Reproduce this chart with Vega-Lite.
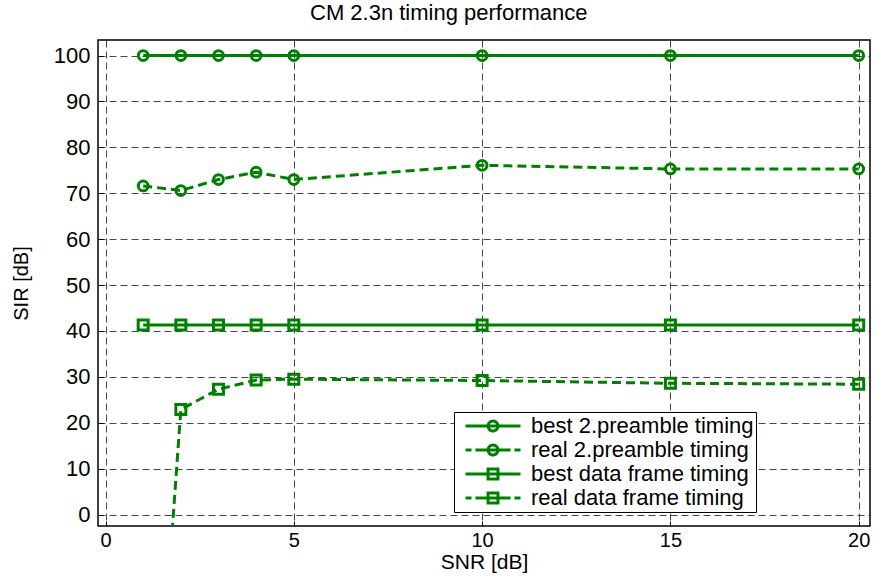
{
  "$schema": "https://vega.github.io/schema/vega-lite/v6.json",
  "autosize": {"type": "none"},
  "width": 772,
  "height": 486,
  "padding": {"left": 98, "top": 40, "right": 6, "bottom": 56},
  "background": "white",
  "title": {
    "text": "CM 2.3n timing performance",
    "anchor": "start",
    "frame": "group",
    "dx": 212,
    "dy": 19,
    "baseline": "alphabetic",
    "offset": 17,
    "font": "Liberation Sans",
    "fontSize": 22,
    "fontWeight": "normal",
    "color": "#000"
  },
  "data": {
    "values": [
      {"snr": 1, "sir": 100, "series": "best 2.preamble timing"},
      {"snr": 2, "sir": 100, "series": "best 2.preamble timing"},
      {"snr": 3, "sir": 100, "series": "best 2.preamble timing"},
      {"snr": 4, "sir": 100, "series": "best 2.preamble timing"},
      {"snr": 5, "sir": 100, "series": "best 2.preamble timing"},
      {"snr": 10, "sir": 100, "series": "best 2.preamble timing"},
      {"snr": 15, "sir": 100, "series": "best 2.preamble timing"},
      {"snr": 20, "sir": 100, "series": "best 2.preamble timing"},
      {"snr": 1, "sir": 71.6, "series": "real 2.preamble timing"},
      {"snr": 2, "sir": 70.6, "series": "real 2.preamble timing"},
      {"snr": 3, "sir": 73.0, "series": "real 2.preamble timing"},
      {"snr": 4, "sir": 74.6, "series": "real 2.preamble timing"},
      {"snr": 5, "sir": 73.0, "series": "real 2.preamble timing"},
      {"snr": 10, "sir": 76.1, "series": "real 2.preamble timing"},
      {"snr": 15, "sir": 75.3, "series": "real 2.preamble timing"},
      {"snr": 20, "sir": 75.3, "series": "real 2.preamble timing"},
      {"snr": 1, "sir": 41.3, "series": "best data frame timing"},
      {"snr": 2, "sir": 41.3, "series": "best data frame timing"},
      {"snr": 3, "sir": 41.3, "series": "best data frame timing"},
      {"snr": 4, "sir": 41.3, "series": "best data frame timing"},
      {"snr": 5, "sir": 41.3, "series": "best data frame timing"},
      {"snr": 10, "sir": 41.3, "series": "best data frame timing"},
      {"snr": 15, "sir": 41.3, "series": "best data frame timing"},
      {"snr": 20, "sir": 41.3, "series": "best data frame timing"},
      {"snr": 1, "sir": -92, "series": "real data frame timing"},
      {"snr": 2, "sir": 22.9, "series": "real data frame timing"},
      {"snr": 3, "sir": 27.3, "series": "real data frame timing"},
      {"snr": 4, "sir": 29.3, "series": "real data frame timing"},
      {"snr": 5, "sir": 29.5, "series": "real data frame timing"},
      {"snr": 10, "sir": 29.2, "series": "real data frame timing"},
      {"snr": 15, "sir": 28.6, "series": "real data frame timing"},
      {"snr": 20, "sir": 28.4, "series": "real data frame timing"}
    ]
  },
  "encoding": {
    "x": {
      "field": "snr",
      "type": "quantitative",
      "scale": {"domain": [-0.2, 20.3], "nice": false, "zero": false},
      "axis": {"values": [0, 5, 10, 15, 20], "title": "SNR [dB]", "titleFontSize": 21, "titlePadding": 1, "labelPadding": 9, "labelFontSize": 20}
    },
    "y": {
      "field": "sir",
      "type": "quantitative",
      "scale": {"domain": [-2.5, 103.4], "nice": false, "zero": false},
      "axis": {"values": [0, 10, 20, 30, 40, 50, 60, 70, 80, 90, 100], "title": "SIR [dB]", "titleFontSize": 20, "titlePadding": 22, "labelPadding": 13}
    },
    "color": {
      "field": "series",
      "type": "nominal",
      "sort": ["best 2.preamble timing", "real 2.preamble timing", "best data frame timing", "real data frame timing"],
      "scale": {
        "domain": ["best 2.preamble timing", "real 2.preamble timing", "best data frame timing", "real data frame timing"],
        "range": ["#008000", "#008000", "#008000", "#008000"]
      },
      "legend": {
        "title": null,
        "orient": "none",
        "legendX": 356,
        "legendY": 372,
        "padding": 2,
        "strokeColor": "#000",
        "fillColor": "#fff",
        "labelFont": "Liberation Sans",
        "labelFontSize": 22,
        "labelColor": "#000",
        "labelOffset": 9,
        "labelLimit": 400,
        "symbolSize": 3025,
        "symbolOffset": 8,
        "symbolStrokeWidth": 3,
        "symbolOpacity": 1,
        "clipHeight": 24,
        "rowPadding": 0,
        "encode": {
          "symbols": {
            "update": {
              "shape": {"signal": "datum.value === 'best 2.preamble timing' ? 'M-1,0H1M0.18,0A0.18,0.18,0,1,1,-0.18,0A0.18,0.18,0,1,1,0.18,0' : datum.value === 'real 2.preamble timing' ? 'M-1,0H-0.78M-0.64,0H-0.36M-0.36,0H0.36M0.36,0H0.64M0.78,0H1M0.18,0A0.18,0.18,0,1,1,-0.18,0A0.18,0.18,0,1,1,0.18,0' : datum.value === 'best data frame timing' ? 'M-1,0H1M-0.18,-0.18H0.18V0.18H-0.18Z' : 'M-1,0H-0.78M-0.64,0H-0.36M-0.36,0H0.36M0.36,0H0.64M0.78,0H1M-0.18,-0.18H0.18V0.18H-0.18Z'"},
              "stroke": {"value": "#008000"},
              "fill": {"value": "transparent"},
              "strokeWidth": {"value": 3},
              "strokeDash": {"value": [1, 0]},
              "opacity": {"value": 1}
            }
          }
        }
      }
    }
  },
  "layer": [
    {
      "transform": [{"filter": {"field": "series", "oneOf": ["best 2.preamble timing", "best data frame timing"]}}],
      "mark": {"type": "line", "strokeWidth": 3, "clip": true}
    },
    {
      "transform": [{"filter": {"field": "series", "oneOf": ["real 2.preamble timing", "real data frame timing"]}}],
      "mark": {"type": "line", "strokeWidth": 3, "strokeDash": [9, 5], "clip": true}
    },
    {
      "transform": [{"filter": {"field": "series", "oneOf": ["best 2.preamble timing", "real 2.preamble timing"]}}],
      "mark": {"type": "point", "shape": "circle", "filled": false, "strokeWidth": 3, "size": 95, "clip": true, "opacity": 1}
    },
    {
      "transform": [{"filter": {"field": "series", "oneOf": ["best data frame timing", "real data frame timing"]}}],
      "mark": {"type": "point", "shape": "square", "filled": false, "strokeWidth": 3, "size": 100, "clip": true, "opacity": 1}
    }
  ],
  "config": {
    "view": {"stroke": "#000", "strokeWidth": 1.5},
    "axis": {
      "domain": false,
      "grid": true,
      "gridColor": "#333",
      "gridDash": [7, 4],
      "gridWidth": 1,
      "gridOpacity": 0.9,
      "ticks": true,
      "tickSize": -5,
      "tickColor": "#000",
      "tickWidth": 1,
      "labelFont": "Liberation Sans",
      "labelFontSize": 22,
      "labelColor": "#000",
      "titleFont": "Liberation Sans",
      "titleFontWeight": "normal",
      "titleColor": "#000"
    }
  }
}
